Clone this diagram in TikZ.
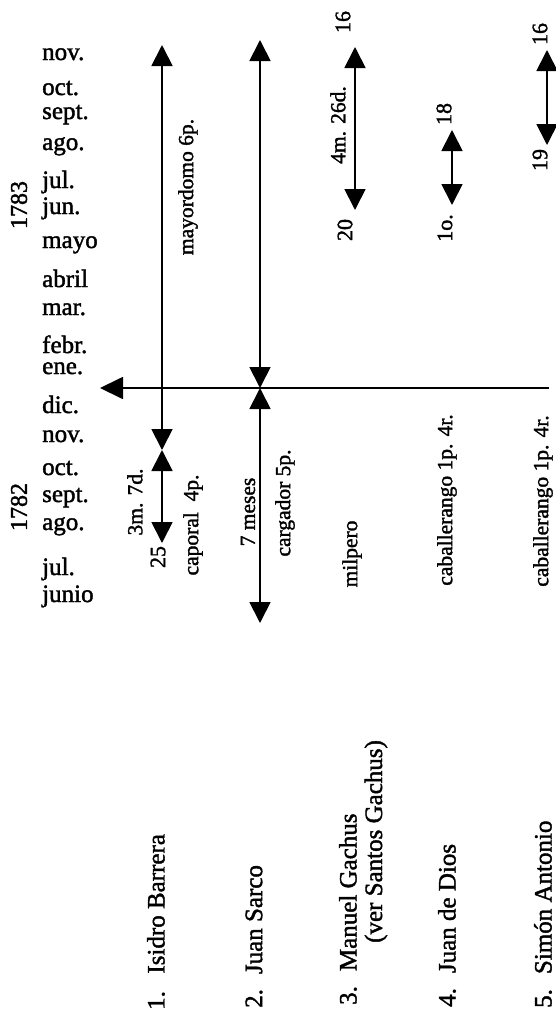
\documentclass[tikz,border=0pt]{standalone}
\usepackage{fontspec}
\setmainfont{Liberation Serif}[FakeBold=1.6]
\usetikzlibrary{arrows.meta}

\begin{document}
\begin{tikzpicture}[x=1pt,y=-1pt,
  tip/.tip={Triangle[length=21pt,width=21pt]},
  span/.style={line width=1.8pt,{tip}-{tip}},
  axisline/.style={line width=1.8pt,-{Triangle[length=23pt,width=22pt]}},
  month/.style={anchor=base west,inner sep=0pt,font=\fontsize{25}{30}\selectfont},
  year/.style={rotate=90,inner sep=0pt,font=\fontsize{24}{28}\selectfont},
  lbl/.style={rotate=90,inner sep=0pt,font=\fontsize{21.5}{26}\selectfont},
  num/.style={rotate=90,inner sep=0pt,font=\fontsize{22}{26}\selectfont},
  who/.style={rotate=90,anchor=west,inner sep=0pt,font=\fontsize{25}{30}\selectfont}]
\useasboundingbox (0,0) rectangle (555,1012);

% years
\node[year] (y1783) at (19,205) {1783};
\node[year] (y1782) at (19,507) {1782};

% months, 1783
\node[month] (m83-11) at (42,60)  {nov.};
\node[month] (m83-10) at (42,95)  {oct.};
\node[month] (m83-09) at (42,119) {sept.};
\node[month] (m83-08) at (42,150) {ago.};
\node[month] (m83-07) at (42,188) {jul.};
\node[month] (m83-06) at (42,214) {jun.};
\node[month] (m83-05) at (42,248) {mayo};
\node[month] (m83-04) at (42,287) {abril};
\node[month] (m83-03) at (42,315) {mar.};
\node[month] (m83-02) at (42,353) {febr.};
\node[month] (m83-01) at (42,374) {ene.};
% months, 1782
\node[month] (m82-12) at (42,413) {dic.};
\node[month] (m82-11) at (42,442) {nov.};
\node[month] (m82-10) at (42,475) {oct.};
\node[month] (m82-09) at (42,502) {sept.};
\node[month] (m82-08) at (42,530) {ago.};
\node[month] (m82-07) at (42,575) {jul.};
\node[month] (m82-06) at (42,602) {junio};

% end points of the service periods
\coordinate (ib-top) at (162,45);
\coordinate (ib-mid) at (162,450);
\coordinate (ib-bot) at (162,543);
\coordinate (js-top) at (260,40);
\coordinate (js-mid) at (260,388);
\coordinate (js-bot) at (260,623);
\coordinate (mg-top) at (355,47);
\coordinate (mg-bot) at (355,210);
\coordinate (jd-top) at (452,130);
\coordinate (jd-bot) at (452,205);
\coordinate (sa-top) at (547,50);
\coordinate (sa-bot) at (547,145);
\coordinate (ax-right) at (549,388);
\coordinate (ax-left) at (100,388);

% time axis (turn of the year)
\draw[axisline] (ax-right) -- (ax-left);

% service periods
\draw[span] (ib-top) -- (ib-mid);
\draw[span] (ib-mid) -- (ib-bot);
\draw[span] (js-top) -- (js-mid);
\draw[span] (js-mid) -- (js-bot);
\draw[span] (mg-top) -- (mg-bot);
\draw[span] (jd-top) -- (jd-bot);
\draw[span] (sa-top) -- (sa-bot);

% 1. Isidro Barrera
\node[lbl] (ib-job1) at (188,187) {mayordomo 6p.};
\node[lbl] (ib-dur)  at (135,502) {3m. 7d.};
\node[num] (ib-day)  at (158,557) {25};
\node[lbl] (ib-job2) at (193,525) {caporal\ \ 4p.};
% 2. Juan Sarco
\node[lbl] (js-dur) at (248,512) {7 meses};
\node[lbl] (js-job) at (285,503) {cargador 5p.};
% 3. Manuel Gachus
\node[num] (mg-d1)  at (343,22)  {16};
\node[lbl] (mg-dur) at (338,125) {4m. 26d.};
\node[num] (mg-d2)  at (345,230) {20};
\node[lbl] (mg-job) at (352,554) {milpero};
% 4. Juan de Dios
\node[num] (jd-d1)  at (444,114) {18};
\node[num] (jd-d2)  at (445,228) {1o.};
\node[lbl] (jd-job) at (447,500) {caballerango 1p. 4r.};
% 5. Simón Antonio
\node[num] (sa-d1)  at (540,34)  {16};
\node[num] (sa-d2)  at (540,160) {19};
\node[lbl] (sa-job) at (543,501) {caballerango 1p. 4r.};

% workers
\node[who] (w1)  at (156,1010) {1.\hspace{0.7em}Isidro Barrera};
\node[who] (w2)  at (254,1008) {2.\hspace{0.6em}Juan Sarco};
\node[who] (w3)  at (348,1005) {3.\hspace{0.6em}Manuel Gachus};
\node[who] (w3b) at (376,943)  {(ver Santos Gachus)};
\node[who] (w4)  at (447,1007) {4.\hspace{0.6em}Juan de Dios};
\node[who] (w5)  at (543,1008) {5.\hspace{0.6em}Simón Antonio};
\end{tikzpicture}
\end{document}
